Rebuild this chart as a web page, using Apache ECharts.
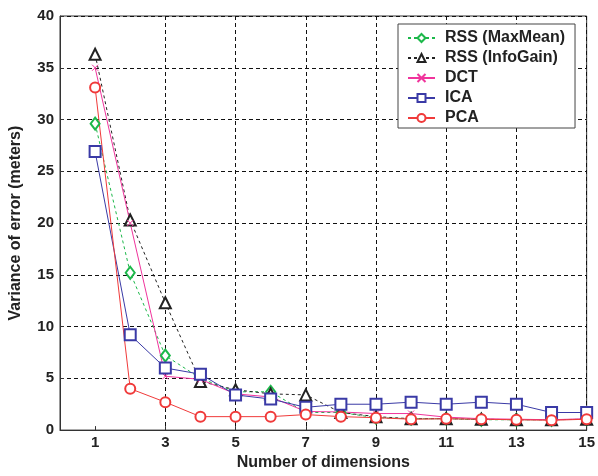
<!DOCTYPE html>
<html>
<head>
<meta charset="utf-8">
<script src="https://cdn.jsdelivr.net/npm/echarts@6/dist/echarts.min.js"></script>
<style>
	html, body {margin:0; padding:0; background:#fff;}
	#chart {width:598px; height:476px;}
</style>
</head>
<body>
<div id="chart"></div>
<script>
	// number of dimensions
	var dims = [1, 2, 3, 4, 5, 6, 7, 8, 9, 10, 11, 12, 13, 14, 15];
	var xTicks = [1, 3, 5, 7, 9, 11, 13, 15];
	// variance of error (meters)
	var rssMaxMean = [29.6, 15.2, 7.2, 5.0, 3.7, 3.7, 1.7, 1.7, 1.2, 1.1, 1.1, 1.0, 1.0, 1.0, 1.05];
	var rssInfoGain = [36.3, 20.3, 12.3, 4.7, 3.9, 3.5, 3.4, 1.7, 1.3, 1.1, 1.1, 1.05, 1.0, 1.0, 1.05];
	var dct = [35.0, 20.0, 5.2, 4.9, 3.5, 3.2, 1.8, 1.75, 1.6, 1.6, 1.25, 1.1, 1.05, 1.0, 1.1];
	var ica = [26.9, 9.2, 6.0, 5.4, 3.4, 3.0, 2.2, 2.5, 2.5, 2.7, 2.5, 2.7, 2.5, 1.7, 1.7];
	var pca = [33.1, 4.0, 2.7, 1.3, 1.3, 1.3, 1.5, 1.3, 1.2, 1.05, 1.1, 1.05, 1.0, 0.95, 1.05];

	var font = "'Liberation Sans', Arial, sans-serif";

	function pairs(vals) {
		return dims.map(function (d, i) { return [d, vals[i]]; });
	}

	function line(name, vals, color, symbol, size, dashed) {
		return {
			name: name,
			type: 'line',
			data: pairs(vals),
			symbol: symbol,
			symbolSize: size,
			showAllSymbol: true,
			lineStyle: {color: color, width: 1, type: dashed ? [3, 3] : 'solid'},
			itemStyle: {color: color, borderColor: color, borderWidth: 1},
			emphasis: {disabled: true},
			animation: false
		};
	}

	var chart = echarts.init(document.getElementById('chart'));
	var option = {
		backgroundColor: '#fff',
		grid: {
			left: 58, right: 8, top: 16, bottom: 40,
			show: true, borderColor: '#333', borderWidth: 1
		},
		legend: {
			orient: 'vertical',
			left: 398, top: 24,
			padding: [6, 10, 2, 9],
			itemGap: 4,
			itemWidth: 27,
			itemHeight: 10,
			backgroundColor: '#fff',
			borderColor: '#444',
			borderWidth: 1,
			textStyle: {fontFamily: font, fontWeight: 'bold', fontSize: 16, color: '#222', padding: [0, 0, 0, 5]},
			data: ['RSS (MaxMean)', 'RSS (InfoGain)', 'DCT', 'ICA', 'PCA']
		},
		xAxis: {
			type: 'value',
			min: 0, max: 15,
			name: 'Number of dimensions',
			nameLocation: 'middle',
			nameGap: 23,
			nameTextStyle: {fontFamily: font, fontWeight: 'bold', fontSize: 16, color: '#222'},
			axisLine: {lineStyle: {color: '#333'}},
			axisTick: {inside: true, length: 4, customValues: xTicks, lineStyle: {color: '#333'}},
			axisLabel: {customValues: xTicks, margin: 5, fontFamily: font, fontWeight: 'bold', fontSize: 15, color: '#222'},
			splitLine: {show: true, showMinLine: false, lineStyle: {color: '#111', type: [4, 3], width: 1}}
		},
		yAxis: {
			type: 'value',
			min: 0, max: 40, interval: 5,
			name: 'Variance of error (meters)',
			nameLocation: 'middle',
			nameGap: 36,
			nameTextStyle: {fontFamily: font, fontWeight: 'bold', fontSize: 16, color: '#222'},
			axisLine: {show: true, lineStyle: {color: '#333'}},
			axisTick: {show: true, inside: true, length: 4, lineStyle: {color: '#333'}},
			axisLabel: {margin: 6, fontFamily: font, fontWeight: 'bold', fontSize: 15, color: '#222'},
			splitLine: {show: true, showMinLine: false, lineStyle: {color: '#111', type: [4, 3], width: 1}}
		},
		series: [
			line('RSS (MaxMean)', rssMaxMean, '#1cb84a', 'emptyDiamond', [9, 12], true),
			line('RSS (InfoGain)', rssInfoGain, '#222222', 'emptyTriangle', 11, true),
			line('DCT', dct, '#f0349c', 'path://M0,0L10,10M10,0L0,10', 6, false),
			line('ICA', ica, '#3a3aa6', 'emptyRect', 11, false),
			line('PCA', pca, '#f03a3a', 'emptyCircle', 10, false)
		]
	};
	chart.setOption(option);
</script>
</body>
</html>
